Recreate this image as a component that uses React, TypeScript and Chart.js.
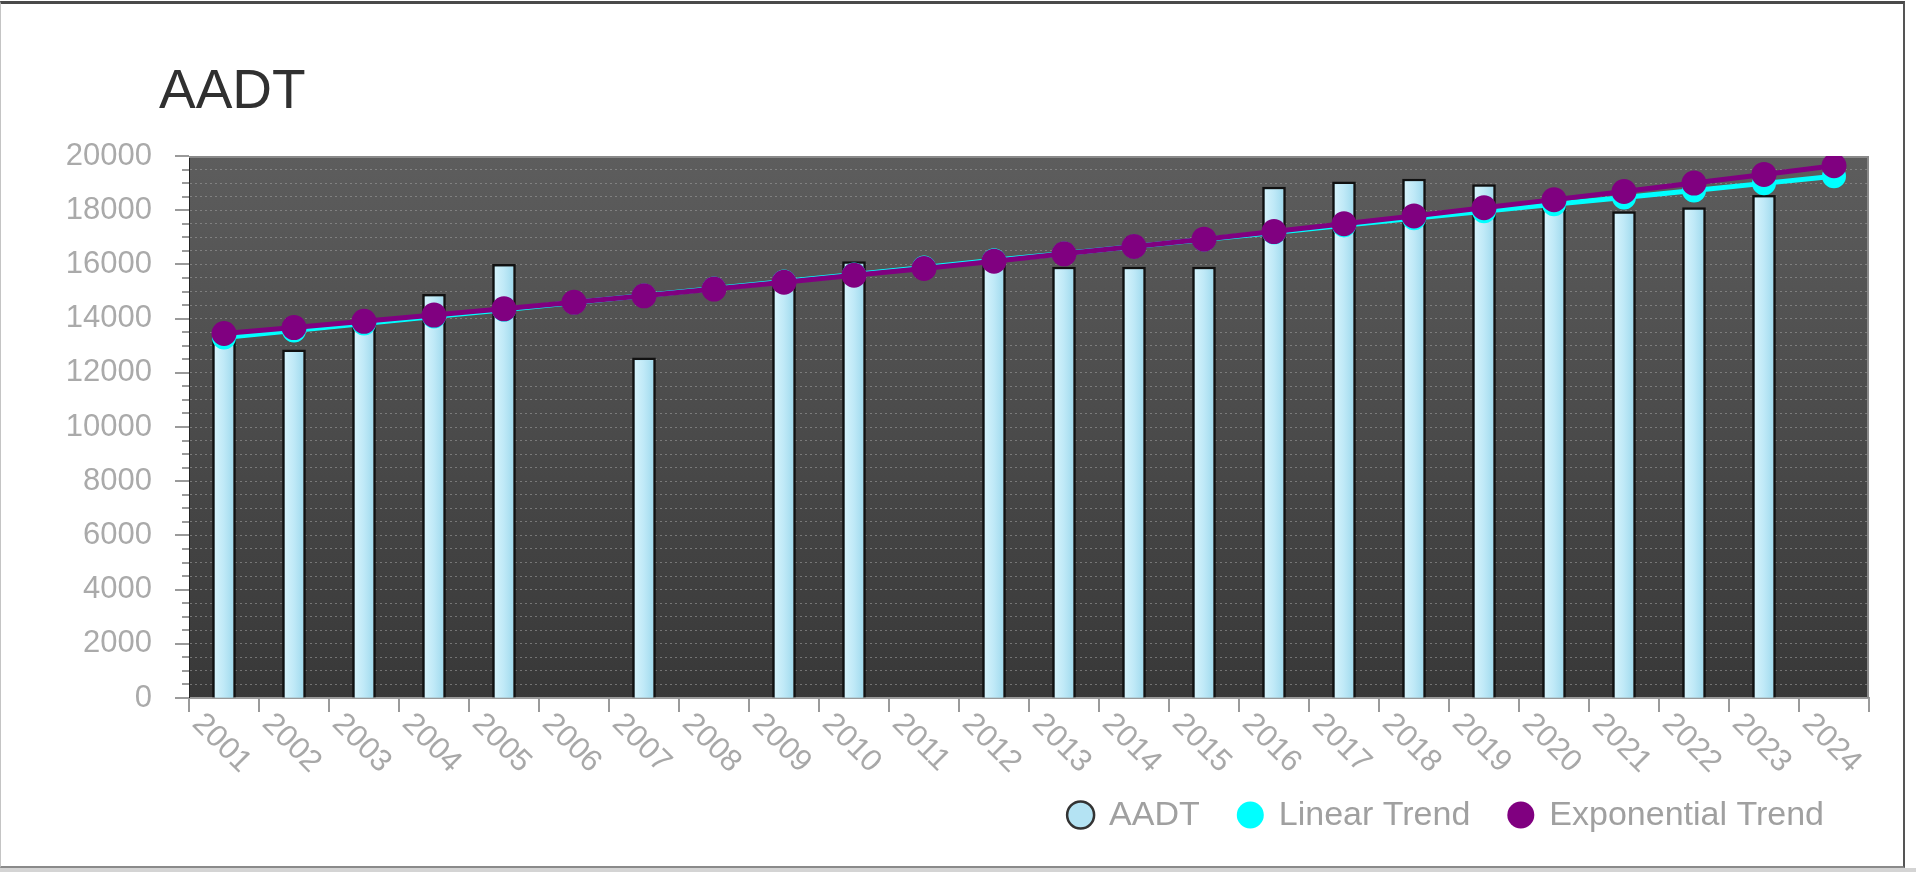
import { useEffect, useRef } from 'react';
import { Chart, registerables } from 'chart.js';

Chart.register(...registerables);

const chartTitle = 'AADT';
const years = ['2001', '2002', '2003', '2004', '2005', '2006', '2007', '2008', '2009', '2010', '2011', '2012',
  '2013', '2014', '2015', '2016', '2017', '2018', '2019', '2020', '2021', '2022', '2023', '2024'];
const aadt = [13300, 12850, 13800, 14900, 16000, null, 12550, null, 15300, 16100, null, 16000,
  15900, 15900, 15900, 18850, 19050, 19150, 18950, 18300, 17950, 18100, 18550, null];
const linearTrend = [13300, 13560, 13820, 14080, 14330, 14590, 14850, 15110, 15370, 15630, 15890, 16150,
  16400, 16660, 16920, 17180, 17440, 17700, 17960, 18220, 18470, 18730, 18990, 19250];
const expTrend = [13450, 13670, 13900, 14130, 14360, 14600, 14840, 15090, 15340, 15600, 15850, 16120,
  16390, 16660, 16930, 17210, 17500, 17790, 18090, 18390, 18690, 19000, 19320, 19640];
const yMin = 0;
const yMax = 20000;
const yMinorStep = 500;
const yLabelStep = 2000;

const FONT = '"Liberation Sans", Arial, sans-serif';

const decor = {
  id: 'decor',
  beforeDraw(chart: any) {
    const { ctx, chartArea: a } = chart;
    ctx.save();
    const g = ctx.createLinearGradient(0, a.top, 0, a.bottom);
    g.addColorStop(0, '#5d5d5d');
    g.addColorStop(1, '#383838');
    ctx.fillStyle = g;
    ctx.fillRect(a.left, a.top, a.right - a.left, a.bottom - a.top);
    ctx.restore();
  },
  beforeDatasetsDraw(chart: any) {
    const { ctx, chartArea: a } = chart;
    ctx.save();
    ctx.lineWidth = 2;
    ctx.strokeStyle = '#8a8a8a';
    ctx.beginPath();
    ctx.moveTo(a.left, a.top + 1);
    ctx.lineTo(a.right - 1, a.top + 1);
    ctx.lineTo(a.right - 1, a.bottom);
    ctx.stroke();
    ctx.restore();
  },
  afterDatasetDraw(chart: any, args: any) {
    if (args.index !== 0) return;
    const { ctx } = chart;
    ctx.save();
    args.meta.data.forEach((el: any, i: number) => {
      if (aadt[i] == null) return;
      const { x, y, base, width } = el.getProps(['x', 'y', 'base', 'width'], true);
      const l = x - width / 2 + 2.5;
      const r = x + width / 2 - 2.5;
      const g = ctx.createLinearGradient(l, 0, r, 0);
      g.addColorStop(0, '#d4f2fb');
      g.addColorStop(0.5, '#bfe9f7');
      g.addColorStop(1, '#a2dbee');
      ctx.fillStyle = g;
      ctx.fillRect(l, y + 2.5, r - l, base - y - 2.5);
    });
    ctx.restore();
  },
  afterDraw(chart: any) {
    const { ctx, chartArea: a } = chart;
    const xs = chart.scales.x;
    const ys = chart.scales.y;
    ctx.save();
    // y tick marks
    ctx.strokeStyle = '#9a9a9a';
    ctx.lineWidth = 2;
    ys.ticks.forEach((t: any) => {
      const py = Math.round(ys.getPixelForValue(t.value));
      const len = t.value % yLabelStep === 0 ? 14 : 7;
      ctx.beginPath();
      ctx.moveTo(a.left - len, py);
      ctx.lineTo(a.left, py);
      ctx.stroke();
    });
    // x tick marks and labels
    const step = xs.getPixelForValue(1) - xs.getPixelForValue(0);
    const x0 = xs.getPixelForValue(0) - step / 2;
    for (let i = 0; i <= years.length; i++) {
      const px = Math.round(x0 + i * step);
      ctx.beginPath();
      ctx.moveTo(px, a.bottom);
      ctx.lineTo(px, a.bottom + 14);
      ctx.stroke();
    }
    ctx.fillStyle = '#a8a8a8';
    ctx.font = '31px ' + FONT;
    ctx.textAlign = 'left';
    ctx.textBaseline = 'top';
    years.forEach((lab, i) => {
      const px = x0 + i * step;
      ctx.save();
      ctx.translate(px + 19, a.bottom + 10);
      ctx.rotate(Math.PI / 4);
      ctx.fillText(lab, 0, 0);
      ctx.restore();
    });
    // title
    ctx.fillStyle = '#303030';
    ctx.font = '55px ' + FONT;
    ctx.textBaseline = 'alphabetic';
    ctx.fillText(chartTitle, 159, 108);
    // legend
    ctx.font = '34px ' + FONT;
    ctx.textBaseline = 'middle';
    const ds = chart.data.datasets;
    const r = 13.5;
    const gapText = 15;
    const gapItem = 37;
    const widths = ds.map((d: any) => 2 * r + gapText + ctx.measureText(d.label).width);
    const total = widths.reduce((s: number, w: number) => s + w, 0) + gapItem * (ds.length - 1);
    let lx = 1824 - total;
    const ly = 815;
    ds.forEach((d: any, i: number) => {
      ctx.beginPath();
      ctx.arc(lx + r, ly, r, 0, Math.PI * 2);
      ctx.fillStyle = d.legendFill;
      ctx.fill();
      if (d.legendStroke) {
        ctx.lineWidth = 2.5;
        ctx.strokeStyle = d.legendStroke;
        ctx.stroke();
      }
      ctx.fillStyle = '#a0a0a0';
      ctx.fillText(d.label, lx + 2 * r + gapText, ly + 1);
      lx += widths[i] + gapItem;
    });
    ctx.restore();
  },
};

export default function App() {
  const ref = useRef<HTMLCanvasElement | null>(null);

  useEffect(() => {
    if (!ref.current) return;
    Chart.defaults.font.family = FONT;
    const chart = new Chart(ref.current, {
      type: 'bar',
      data: {
        labels: years,
        datasets: [
          {
            type: 'bar',
            label: 'AADT',
            data: aadt,
            backgroundColor: '#b9e7f6',
            borderColor: '#111111',
            borderWidth: 2.5,
            barThickness: 23,
            order: 3,
            legendFill: '#b4e3f3',
            legendStroke: '#333333',
          } as any,
          {
            type: 'line',
            label: 'Linear Trend',
            data: linearTrend,
            borderColor: '#00ffff',
            backgroundColor: '#00ffff',
            pointBackgroundColor: '#00ffff',
            pointBorderColor: '#00ffff',
            pointRadius: 9.5,
            borderWidth: 5,
            order: 2,
            legendFill: '#00ffff',
          } as any,
          {
            type: 'line',
            label: 'Exponential Trend',
            data: expTrend,
            borderColor: '#800080',
            backgroundColor: '#800080',
            pointBackgroundColor: '#800080',
            pointBorderColor: '#800080',
            pointRadius: 10,
            borderWidth: 5,
            order: 1,
            legendFill: '#800080',
          } as any,
        ],
      },
      options: {
        animation: false,
        responsive: false,
        devicePixelRatio: 1,
        layout: { padding: { left: 0, top: 156, right: 47, bottom: 74 } },
        plugins: {
          legend: { display: false },
          title: { display: false },
          tooltip: { enabled: false },
        },
        scales: {
          x: {
            offset: true,
            grid: { display: false, offset: true },
            ticks: { display: false },
            border: { display: true, color: '#9a9a9a', width: 2 },
            afterFit: (s: any) => { s.height = 100; },
          },
          y: {
            min: yMin,
            max: yMax,
            ticks: {
              stepSize: yMinorStep,
              autoSkip: false,
              maxTicksLimit: 100,
              padding: 37,
              color: '#aaaaaa',
              font: { size: 31, family: FONT },
              callback: (v: any) => (Number(v) % yLabelStep === 0 ? String(v) : ''),
            },
            grid: { color: 'rgba(155,155,155,0.6)', drawTicks: false, lineWidth: 1 },
            border: { display: true, color: '#222222', width: 1, dash: [2, 3] },
            afterFit: (s: any) => { s.width = 189; },
          },
        },
      } as any,
      plugins: [decor],
    });
    return () => chart.destroy();
  }, []);

  return (
    <div style={{ position: 'fixed', left: 0, top: 0, width: 1916, height: 872, background: '#ffffff' }}>
      <div style={{ position: 'absolute', left: 0, top: 868, width: 1916, height: 4, background: '#d4d4d4' }} />
      <div
        style={{
          position: 'absolute', left: 0, top: 1, width: 1905, height: 867, boxSizing: 'border-box',
          borderTop: '3px solid #4a4a4a', borderLeft: '1px solid #c4c4c4',
          borderRight: '2px solid #555555', borderBottom: '2px solid #8a8a8a',
        }}
      />
      <canvas ref={ref} width={1916} height={872} style={{ position: 'absolute', left: 0, top: 0 }} />
    </div>
  );
}
